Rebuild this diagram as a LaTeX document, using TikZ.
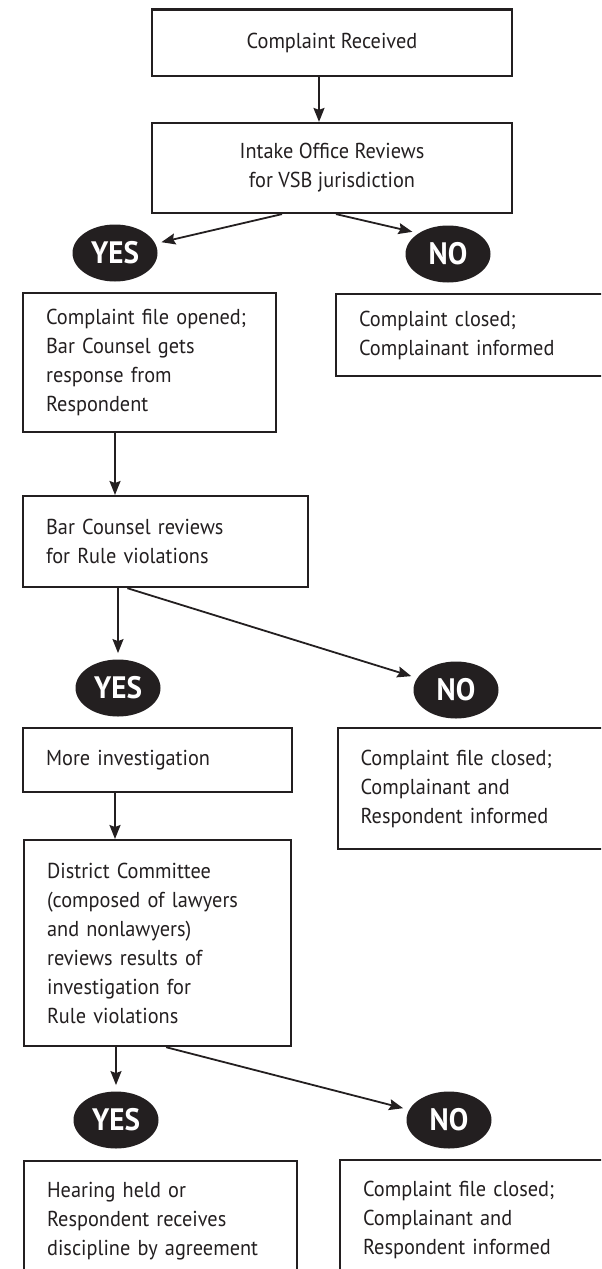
\documentclass[tikz,border=0pt]{standalone}
\usepackage{fontspec}
\setmainfont{PT Sans}[FakeStretch=0.94]
\usepackage{xcolor}
\usetikzlibrary{arrows.meta,positioning,calc,shapes.geometric}
\definecolor{ink}{HTML}{231F20}

\begin{document}
\begin{tikzpicture}[x=0.5pt,y=-0.5pt,
  box/.style={draw=ink,line width=1.1pt,inner xsep=11.5pt,inner ysep=0pt,text=ink,
    font=\fontsize{10.8}{14.5}\selectfont},
  cbox/.style={box,align=center,minimum width=180pt},
  lbox/.style={box,anchor=north west,align=left},
  answer/.style={ellipse,fill=ink,text=white,minimum width=42.5pt,minimum height=28.5pt,
    inner sep=0pt,font=\bfseries\fontsize{15.5}{16}\selectfont},
  flow/.style={draw=ink,line width=0.9pt,-{Stealth[length=7pt,width=5.5pt,inset=1pt]}},
  toans/.style={flow,shorten >=3pt}]
\useasboundingbox (0,0) rectangle (601,1269);
\clip (0,0) rectangle (601,1269);

% intake
\node[cbox,minimum height=33.3pt] (recv) at (332,42.7) {Complaint Received};
\node[cbox,minimum height=45pt] (intake) at (332,168) {Intake Office Reviews\\for VSB jurisdiction};
\node[answer] (yes1) at (115,253) {YES};
\node[answer] (no1) at (448,254) {NO};
\node[lbox,text width=103.5pt,minimum height=69.5pt] (opened) at (22,292)
  {Complaint file opened;\\Bar Counsel gets\\response from\\Respondent};
\node[lbox,text width=129.5pt,minimum height=41pt] (closed1) at (335,293)
  {Complaint closed;\\Complainant informed};

% bar counsel
\node[lbox,text width=119.3pt,minimum height=45.5pt] (barrev) at (22,495)
  {Bar Counsel reviews\\for Rule violations};
\node[answer] (yes2) at (118,688) {YES};
\node[answer] (no2) at (456,690) {NO};
\node[lbox,text width=111.5pt,minimum height=32pt] (moreinv) at (22,727) {More investigation};
\node[lbox,text width=129.5pt,minimum height=60.5pt] (closed2) at (336.5,727)
  {Complaint file closed;\\Complainant and\\Respondent informed};

% district committee
\node[lbox,text width=110.5pt,minimum height=103pt] (district) at (23,839)
  {District Committee\\(composed of lawyers\\and nonlawyers)\\reviews results of\\investigation for\\Rule violations};
\node[answer] (yes3) at (116,1120) {YES};
\node[answer] (no3) at (449,1120) {NO};
\node[lbox,text width=113.5pt,minimum height=60pt] (hearing) at (23,1160)
  {Hearing held or\\Respondent receives\\discipline by agreement};
\node[lbox,text width=129.5pt,minimum height=60pt] (closed3) at (339,1159)
  {Complaint file closed;\\Complainant and\\Respondent informed};

% connectors
\draw[flow] ([xshift=-6.5pt]recv.south) -- ([xshift=-6.5pt]intake.north);
\draw[toans] ([xshift=-25pt]intake.south) -- (yes1);
\draw[toans] ([xshift=2pt]intake.south) -- (no1.145);
\draw[flow] (opened.south -| yes1) -- (barrev.north -| yes1);
\draw[toans] (barrev.south -| yes2) -- (yes2);
\draw[toans] ([xshift=-19pt]barrev.south) -- (no2);
\draw[flow] (moreinv.south -| yes1) -- (district.north -| yes1);
\draw[toans] (district.south -| yes3) -- (yes3);
\draw[toans] ([xshift=4.25pt]district.south) -- (no3);
\end{tikzpicture}
\end{document}
